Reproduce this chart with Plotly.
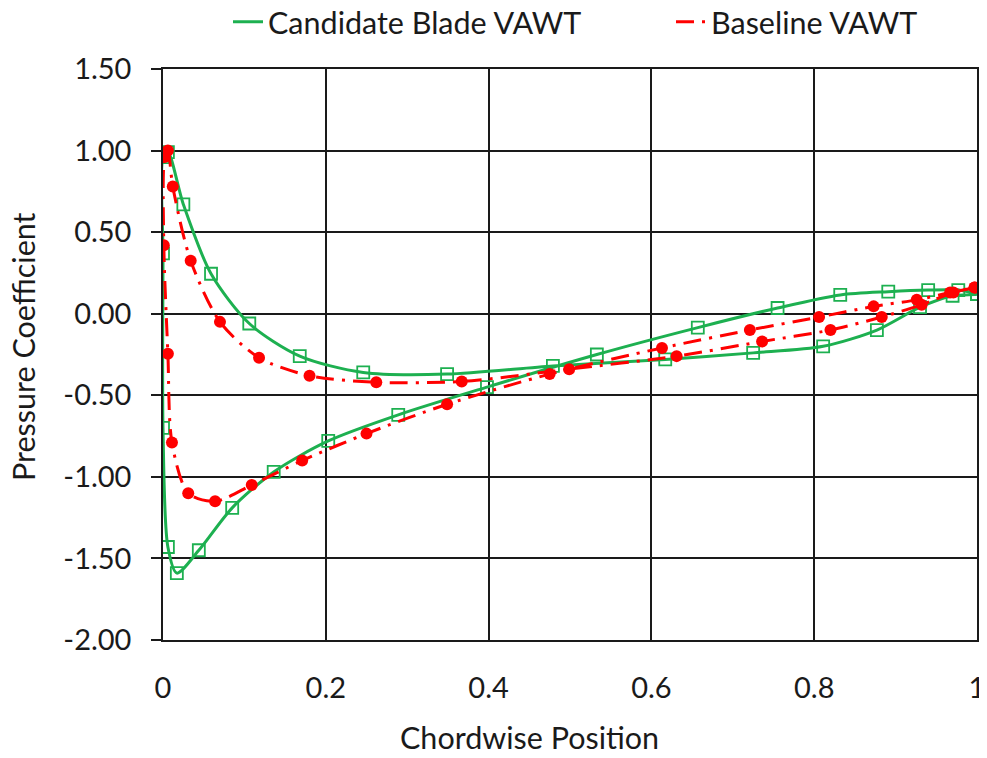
import plotly.graph_objects as go

# ---- data (chordwise position x/c, pressure coefficient Cp), traced around the blade ----
candidate_x = [1.000, 0.970, 0.930, 0.877, 0.811, 0.725, 0.617, 0.479, 0.349, 0.246, 0.168, 0.106, 0.059, 0.025,
               0.006, 0.000, 0.000, 0.000, 0.006, 0.017, 0.044, 0.085, 0.136, 0.203, 0.289, 0.398, 0.533,
               0.657, 0.755, 0.832, 0.891, 0.940, 0.977, 1.000]
candidate_cp = [0.12, 0.11, 0.04, -0.10, -0.20, -0.24, -0.28, -0.32, -0.37, -0.36, -0.26, -0.06, 0.245, 0.67,
                0.99, 0.96, 0.37, -0.70, -1.43, -1.59, -1.45, -1.19, -0.97, -0.78, -0.62, -0.45, -0.25,
                -0.085, 0.035, 0.115, 0.135, 0.145, 0.145, 0.12]

baseline_x = [0.997, 0.971, 0.932, 0.883, 0.820, 0.736, 0.631, 0.499, 0.367, 0.262, 0.180, 0.118, 0.070, 0.034,
              0.012, 0.006, 0.002, 0.001, 0.006, 0.011, 0.031, 0.064, 0.109, 0.171, 0.250, 0.349, 0.475,
              0.613, 0.721, 0.806, 0.873, 0.926, 0.967, 0.997]
baseline_cp = [0.16, 0.13, 0.055, -0.02, -0.10, -0.17, -0.26, -0.34, -0.415, -0.42, -0.38, -0.27, -0.05, 0.325,
               0.78, 1.00, 0.96, 0.42, -0.245, -0.79, -1.10, -1.15, -1.05, -0.90, -0.735, -0.555, -0.37,
               -0.21, -0.10, -0.02, 0.045, 0.085, 0.13, 0.16]

x_tick_vals = [0, 0.2, 0.4, 0.6, 0.8, 1]
x_tick_labels = ["0", "0.2", "0.4", "0.6", "0.8", "1"]
y_tick_vals = [1.5, 1.0, 0.5, 0.0, -0.5, -1.0, -1.5, -2.0]
y_tick_labels = ["1.50", "1.00", "0.50", "0.00", "-0.50", "-1.00", "-1.50", "-2.00"]

series_names = ["Candidate Blade VAWT", "Baseline VAWT"]

GREEN = "#1DB050"
RED = "#FF0000"
FONT = "Lato"
TXT = "#1a1a1a"
TICK_SIZE = 29
TITLE_SIZE = 30.5
DASH = "18px,8px,3px,8px"

# page body has an 8px margin; figure is sized/offset so the plot lands where the reference has it
FIG_W, FIG_H = 979, 750
ML, MR, MT, MB = 155, 10, 61, 118
PW, PH = FIG_W - ML - MR, FIG_H - MT - MB   # 814 x 571
OFF = 8

fig = go.Figure()

fig.add_trace(go.Scatter(
    x=candidate_x, y=candidate_cp, mode="lines+markers", name=series_names[0],
    line=dict(color=GREEN, width=3, shape="spline", smoothing=0.8),
    marker=dict(symbol="square-open", size=12, color=GREEN, line=dict(width=1.8, color=GREEN)),
    showlegend=False,
))
fig.add_trace(go.Scatter(
    x=baseline_x, y=baseline_cp, mode="lines+markers", name=series_names[1],
    line=dict(color=RED, width=3, shape="spline", smoothing=0.8, dash=DASH),
    marker=dict(symbol="circle", size=12, color=RED),
    showlegend=False,
))

# legend entries (line only, as in the reference)
fig.add_trace(go.Scatter(x=[None], y=[None], mode="lines", name=series_names[0],
                         line=dict(color=GREEN, width=3), legend="legend"))
fig.add_trace(go.Scatter(x=[None], y=[None], mode="lines", name=series_names[1],
                         line=dict(color=RED, width=3, dash=DASH), legend="legend2"))

axis_common = dict(
    showgrid=True, gridcolor="#1a1a1a", gridwidth=1.5,
    showline=True, linecolor="#1a1a1a", linewidth=1.5, mirror=True,
    zeroline=False,
    tickfont=dict(family=FONT, size=TICK_SIZE, color=TXT),
)

fig.update_xaxes(range=[0, 1], tickmode="array", tickvals=x_tick_vals, ticktext=x_tick_labels,
                 ticks="", ticklabelstandoff=21, automargin=False, **axis_common)
fig.update_yaxes(range=[-2.0, 1.5], tickmode="array", tickvals=y_tick_vals, ticktext=y_tick_labels,
                 ticks="outside", ticklen=10, tickcolor="#1a1a1a", tickwidth=1.5,
                 ticklabelstandoff=14, automargin=False, **axis_common)


def px_x(px):  # window px -> plot-area paper fraction
    return (px - OFF - ML) / PW


def px_y(py):
    return (MT + PH - (py - OFF)) / PH


leg_font = dict(family=FONT, size=TITLE_SIZE, color=TXT)
fig.update_layout(
    width=FIG_W, height=FIG_H,
    margin=dict(l=ML, r=MR, t=MT, b=MB),
    paper_bgcolor="white", plot_bgcolor="white",
    font=dict(family=FONT, size=TITLE_SIZE, color=TXT),
    legend=dict(orientation="h", xref="container", yref="container",
                x=(228 - OFF) / FIG_W, y=1 - (22 - OFF) / FIG_H, xanchor="left", yanchor="middle",
                font=leg_font, bgcolor="rgba(0,0,0,0)"),
    legend2=dict(orientation="h", xref="container", yref="container",
                 x=(671 - OFF) / FIG_W, y=1 - (22 - OFF) / FIG_H, xanchor="left", yanchor="middle",
                 font=leg_font, bgcolor="rgba(0,0,0,0)"),
    annotations=[
        dict(text="Pressure Coefficient", xref="paper", yref="paper",
             x=px_x(23), y=px_y(347), textangle=-90, showarrow=False,
             xanchor="center", yanchor="middle", font=dict(family=FONT, size=TITLE_SIZE, color=TXT)),
        dict(text="Chordwise Position", xref="paper", yref="paper",
             x=px_x(529), y=px_y(737), showarrow=False,
             xanchor="center", yanchor="middle", font=dict(family=FONT, size=TITLE_SIZE, color=TXT)),
    ],
)

fig.write_html("out.html")
